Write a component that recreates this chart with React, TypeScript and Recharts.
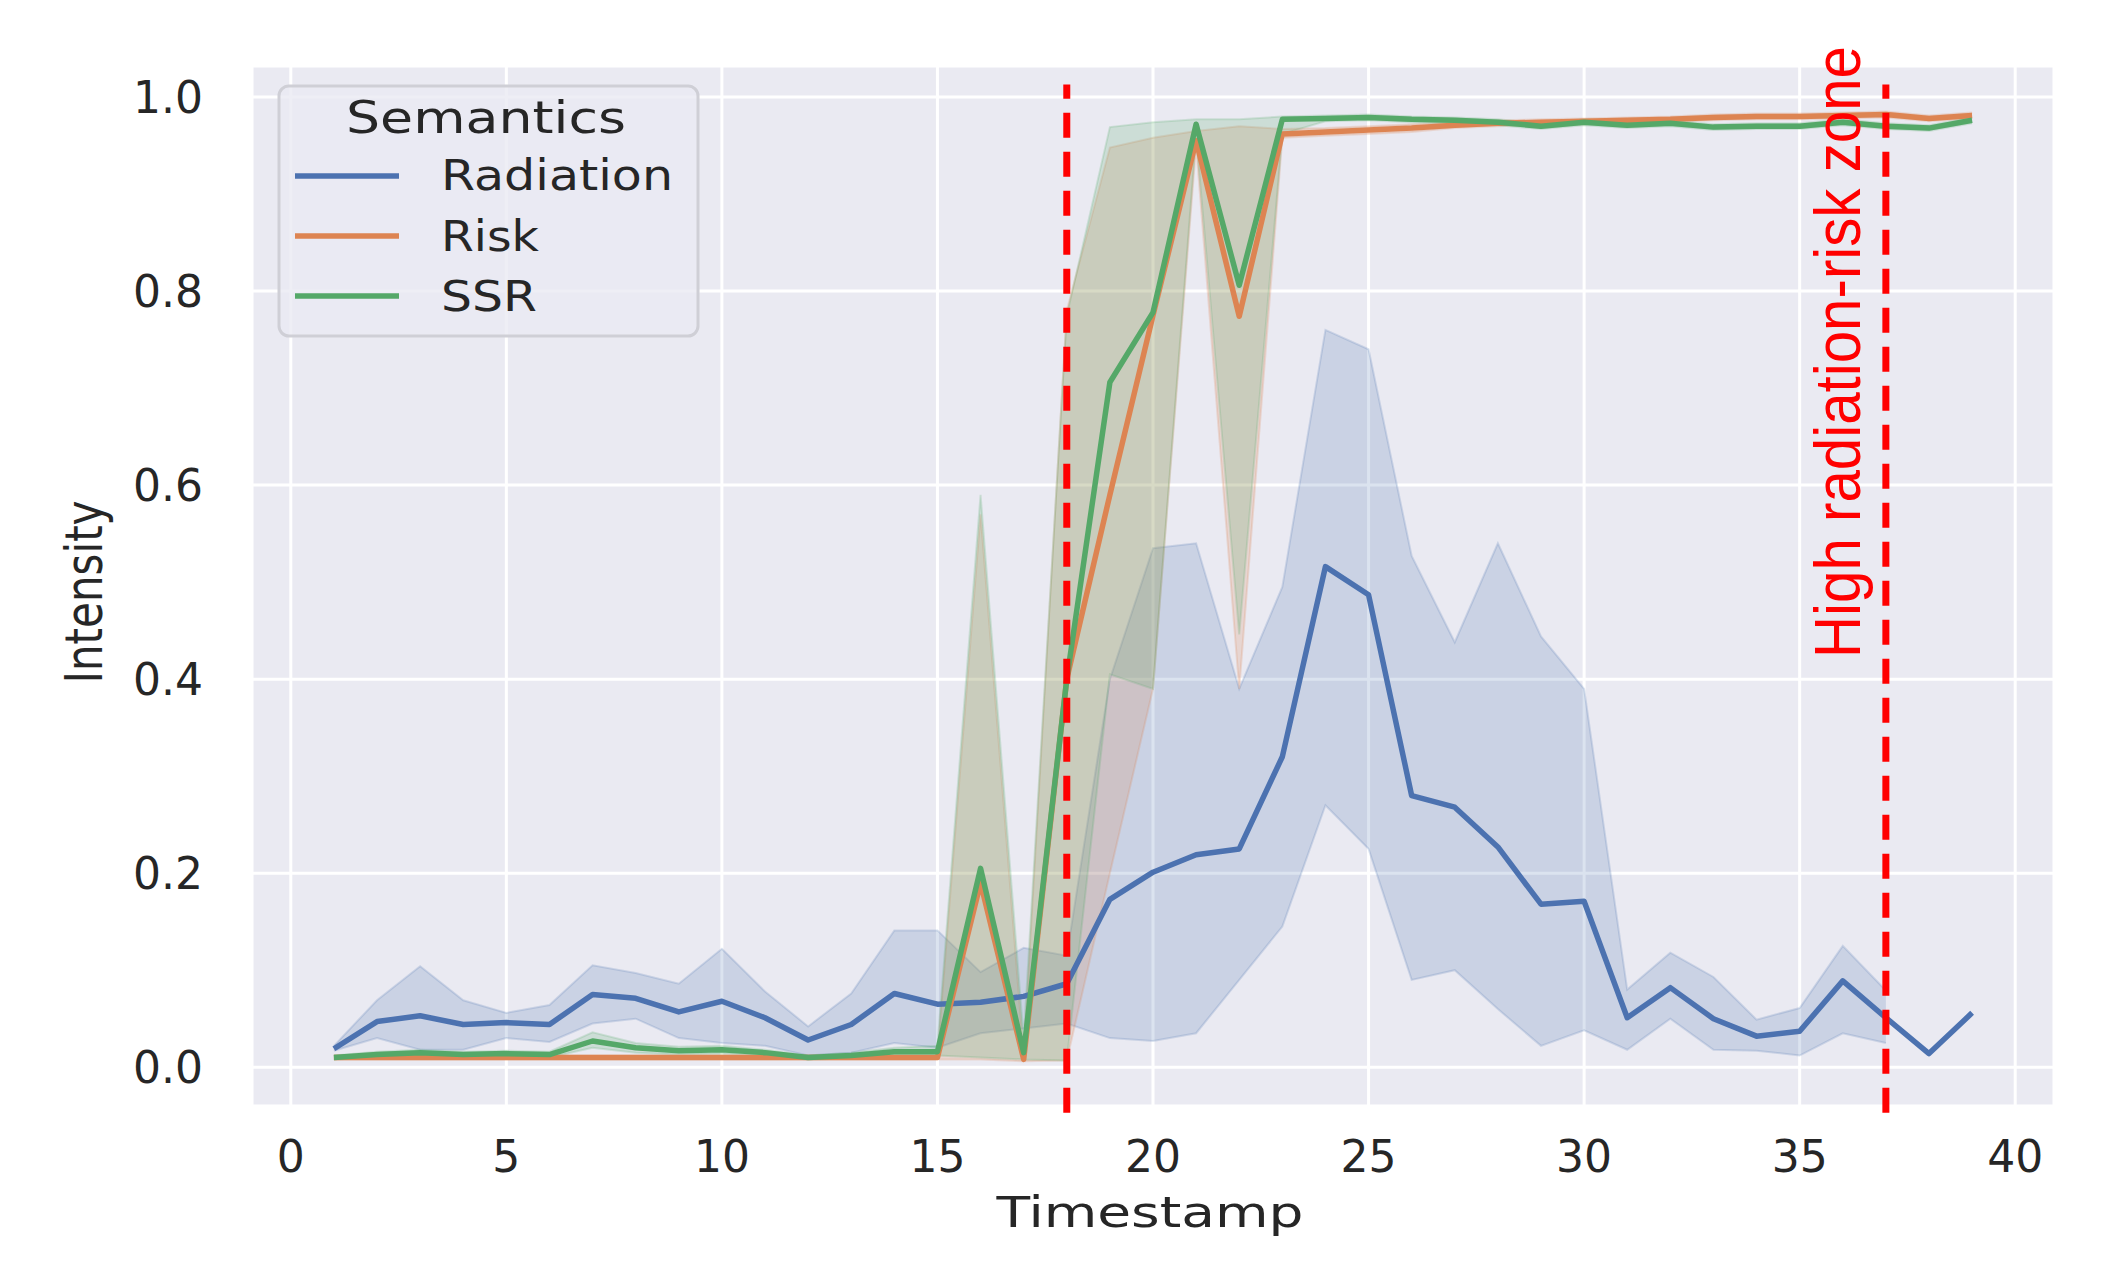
import { ComposedChart, Line, Area, XAxis, YAxis, CartesianGrid, ReferenceLine } from 'recharts';

const timestamps = [1, 2, 3, 4, 5, 6, 7, 8, 9, 10, 11, 12, 13, 14, 15, 16, 17, 18, 19, 20, 21, 22, 23, 24, 25, 26, 27, 28, 29, 30, 31, 32, 33, 34, 35, 36, 37, 38, 39];

const radiation = [0.019, 0.047, 0.053, 0.044, 0.046, 0.044, 0.075, 0.071, 0.057, 0.068, 0.051, 0.028, 0.044, 0.076, 0.065, 0.067, 0.073, 0.086, 0.173, 0.201, 0.219, 0.225, 0.32, 0.516, 0.487, 0.28, 0.268, 0.227, 0.168, 0.171, 0.051, 0.082, 0.05, 0.032, 0.037, 0.089, 0.051, 0.014, 0.056];
const radiationLow = [0.017, 0.03, 0.018, 0.018, 0.03, 0.026, 0.045, 0.05, 0.03, 0.025, 0.022, 0.012, 0.015, 0.025, 0.02, 0.035, 0.04, 0.045, 0.03, 0.027, 0.035, 0.09, 0.145, 0.27, 0.225, 0.09, 0.1, 0.06, 0.022, 0.038, 0.018, 0.05, 0.018, 0.017, 0.012, 0.035, 0.025, null, null];
const radiationHigh = [0.022, 0.069, 0.104, 0.069, 0.056, 0.064, 0.105, 0.097, 0.086, 0.122, 0.078, 0.042, 0.076, 0.141, 0.141, 0.098, 0.123, 0.115, 0.4, 0.535, 0.54, 0.39, 0.495, 0.76, 0.74, 0.527, 0.438, 0.54, 0.444, 0.39, 0.08, 0.118, 0.093, 0.049, 0.061, 0.125, 0.079, null, null];

const risk = [0.01, 0.01, 0.01, 0.01, 0.01, 0.01, 0.01, 0.01, 0.01, 0.01, 0.01, 0.01, 0.01, 0.01, 0.01, 0.19, 0.008, 0.4, 0.59, 0.775, 0.955, 0.774, 0.962, 0.964, 0.966, 0.968, 0.971, 0.973, 0.974, 0.975, 0.976, 0.977, 0.979, 0.98, 0.98, 0.981, 0.982, 0.978, 0.981];
const riskLow = [0.008, 0.008, 0.008, 0.008, 0.008, 0.008, 0.008, 0.008, 0.008, 0.008, 0.008, 0.008, 0.008, 0.008, 0.008, 0.008, 0.006, 0.007, 0.2, 0.39, 0.95, 0.39, 0.958, 0.96, 0.962, 0.964, 0.968, 0.97, 0.971, 0.972, 0.973, 0.974, 0.976, 0.977, 0.977, 0.978, 0.979, 0.975, 0.978];
const riskHigh = [0.012, 0.012, 0.012, 0.012, 0.012, 0.012, 0.012, 0.012, 0.012, 0.012, 0.012, 0.012, 0.012, 0.012, 0.012, 0.57, 0.012, 0.78, 0.948, 0.958, 0.965, 0.97, 0.967, 0.968, 0.97, 0.972, 0.974, 0.976, 0.977, 0.978, 0.979, 0.98, 0.982, 0.983, 0.983, 0.984, 0.985, 0.981, 0.984];

const ssr = [0.01, 0.013, 0.015, 0.013, 0.014, 0.013, 0.027, 0.02, 0.017, 0.018, 0.015, 0.01, 0.012, 0.016, 0.016, 0.205, 0.015, 0.4, 0.706, 0.778, 0.972, 0.806, 0.977, 0.978, 0.979, 0.977, 0.976, 0.974, 0.97, 0.974, 0.971, 0.973, 0.969, 0.97, 0.97, 0.974, 0.97, 0.968, 0.976];
const ssrLow = [0.008, 0.01, 0.012, 0.01, 0.011, 0.01, 0.02, 0.015, 0.013, 0.014, 0.012, 0.008, 0.009, 0.012, 0.012, 0.01, 0.008, 0.007, 0.405, 0.39, 0.96, 0.446, 0.962, 0.975, 0.976, 0.974, 0.973, 0.971, 0.967, 0.971, 0.968, 0.97, 0.966, 0.967, 0.967, 0.971, 0.967, 0.965, 0.973];
const ssrHigh = [0.012, 0.016, 0.018, 0.016, 0.017, 0.016, 0.036, 0.025, 0.021, 0.022, 0.018, 0.012, 0.015, 0.02, 0.022, 0.59, 0.03, 0.775, 0.969, 0.974, 0.977, 0.977, 0.98, 0.981, 0.982, 0.98, 0.979, 0.977, 0.973, 0.977, 0.974, 0.976, 0.972, 0.973, 0.973, 0.977, 0.973, 0.971, 0.979];

const xTicks = [0, 5, 10, 15, 20, 25, 30, 35, 40];
const yTicks = [0, 0.2, 0.4, 0.6, 0.8, 1.0];
const zoneBounds = [18, 37];

const series = [
  { key: 'radiation', band: 'radiationBand', name: 'Radiation', color: '#4c72b0', labelWidth: 232 },
  { key: 'risk', band: 'riskBand', name: 'Risk', color: '#dd8452', labelWidth: 98 },
  { key: 'ssr', band: 'ssrBand', name: 'SSR', color: '#55a868', labelWidth: 96 },
];

const band = (lo: (number | null)[], hi: (number | null)[], i: number) =>
  lo[i] == null || hi[i] == null ? null : [lo[i], hi[i]];

const data = timestamps.map((t, i) => ({
  t,
  radiation: radiation[i],
  radiationBand: band(radiationLow, radiationHigh, i),
  risk: risk[i],
  riskBand: band(riskLow, riskHigh, i),
  ssr: ssr[i],
  ssrBand: band(ssrLow, ssrHigh, i),
}));

const W = 2112;
const H = 1283;
const font = '"DejaVu Sans", sans-serif';
const ink = '#262626';

export default function App() {
  return (
    <div style={{ position: 'absolute', left: 0, top: 0, width: W, height: H, background: '#fff' }}>
      <ComposedChart width={W} height={H} data={data} margin={{ top: 66, right: 58, left: 0, bottom: 0 }}>
        <CartesianGrid fill="#eaeaf2" fillOpacity={1} stroke="#ffffff" strokeWidth={3} />
        <XAxis
          dataKey="t"
          type="number"
          domain={[-0.9, 40.9]}
          ticks={xTicks}
          height={177}
          axisLine={false}
          tickLine={false}
          tickSize={0}
          tickMargin={35}
          tick={{ fontSize: 44, fill: ink, fontFamily: font }}
        />
        <YAxis
          type="number"
          domain={[-0.04, 1.032]}
          ticks={yTicks}
          width={252}
          axisLine={false}
          tickLine={false}
          tickSize={0}
          tickMargin={49}
          tickFormatter={(v: number) => v.toFixed(1)}
          tick={{ fontSize: 44, fill: ink, fontFamily: font }}
        />
        {series.flatMap((s) => [
          <Line
            key={s.key}
            dataKey={s.key}
            type="linear"
            stroke={s.color}
            strokeWidth={5.5}
            strokeLinejoin="round"
            dot={false}
            activeDot={false}
            isAnimationActive={false}
          />,
          <Area
            key={s.band}
            dataKey={s.band}
            type="linear"
            fill={s.color}
            fillOpacity={0.2}
            stroke={s.color}
            strokeOpacity={0.2}
            strokeWidth={2}
            dot={false}
            activeDot={false}
            isAnimationActive={false}
          />,
        ])}
        {zoneBounds.map((x) => (
          <ReferenceLine
            key={x}
            segment={[{ x, y: -0.047 }, { x, y: 1.013 }]}
            stroke="#ff0000"
            strokeWidth={7}
            strokeDasharray="25 14"
            ifOverflow="visible"
          />
        ))}
      </ComposedChart>

      <svg width={W} height={H} style={{ position: 'absolute', left: 0, top: 0, pointerEvents: 'none' }}>
        <text x={1150} y={1227} textAnchor="middle" fontSize={43} fill={ink} fontFamily={font}
          textLength={307} lengthAdjust="spacingAndGlyphs">
          Timestamp
        </text>
        <text transform="translate(102,592) rotate(-90)" textAnchor="middle" fontSize={52} fill={ink}
          fontFamily={font} textLength={183} lengthAdjust="spacingAndGlyphs">
          Intensity
        </text>

        {/* legend */}
        <rect x={279} y={86} width={419} height={250} rx={10} fill="#eaeaf2" fillOpacity={0.8}
          stroke="#cfcfd6" strokeWidth={3} />
        <text x={486} y={133} textAnchor="middle" fontSize={45} fill={ink} fontFamily={font}
          textLength={280} lengthAdjust="spacingAndGlyphs">
          Semantics
        </text>
        {series.map((s, i) => (
          <g key={s.key}>
            <line x1={295} x2={399} y1={176 + i * 60} y2={176 + i * 60} stroke={s.color} strokeWidth={5.5} />
            <text x={441} y={190 + i * 60.5} fontSize={42} fill={ink} fontFamily={font}
              textLength={s.labelWidth} lengthAdjust="spacingAndGlyphs">
              {s.name}
            </text>
          </g>
        ))}

        <text transform="translate(1860,352) rotate(-90)" textAnchor="middle" fontSize={64} fill="#ff0000"
          fontFamily='"Liberation Sans", sans-serif' textLength={612} lengthAdjust="spacingAndGlyphs">
          High radiation-risk zone
        </text>
      </svg>
    </div>
  );
}
